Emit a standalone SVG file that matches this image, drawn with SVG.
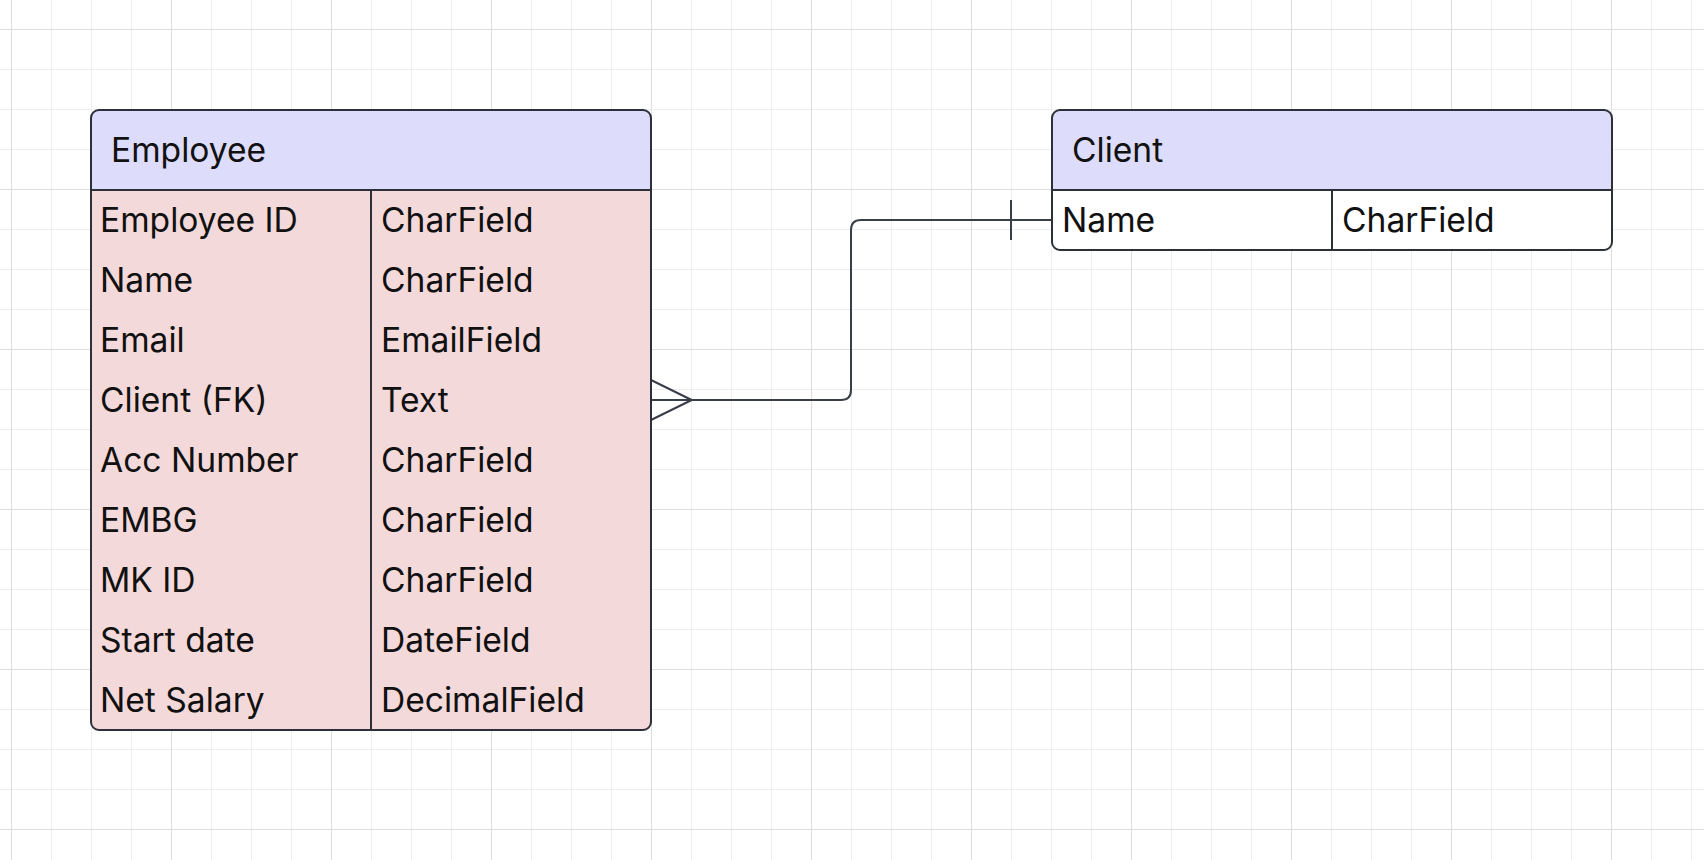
<svg xmlns="http://www.w3.org/2000/svg" width="1704" height="860" viewBox="0 0 1704 860">
<style>
.t{font-family:Inter,"Noto Sans","Liberation Sans",sans-serif;font-size:33.6px;fill:#111}
.box{stroke:#2d3038;stroke-width:2}
.ln{stroke:#2d3038;stroke-width:2;fill:none}
.conn{stroke:#3a3e47;stroke-width:2;fill:none;stroke-linejoin:round}
</style>
<defs>
<pattern id="grid" patternUnits="userSpaceOnUse" x="11" y="29" width="160" height="160">
<path d="M40.5 0V160M80.5 0V160M120.5 0V160M0 40.5H160M0 80.5H160M0 120.5H160" stroke="#eeeeee" stroke-width="1" fill="none"/>
<path d="M0.5 0V160M0 0.5H160" stroke="#dedede" stroke-width="1" fill="none"/>
</pattern>
<clipPath id="ce"><rect x="91" y="110" width="560" height="620" rx="8"/></clipPath>
<clipPath id="cc"><rect x="1052" y="110" width="560" height="140" rx="8"/></clipPath>
</defs>
<rect width="1704" height="860" fill="#ffffff"/>
<rect width="1704" height="860" fill="url(#grid)"/>

<g id="connectors">
<path class="conn" d="M651 400H841Q851 400 851 390V230Q851 220 861 220H1052"/>
<path class="conn" d="M651 380L691.7 400L651 420"/>
<path class="conn" d="M1011 200V240"/>
</g>

<g id="employee">
<g clip-path="url(#ce)">
<rect x="91" y="110" width="560" height="80" fill="#dedcfb"/>
<rect x="91" y="190" width="560" height="540" fill="#f4d9da"/>
</g>
<rect class="box" x="91" y="110" width="560" height="620" rx="8" fill="none"/>
<path class="ln" d="M91 190H651M371 190V730"/>
<text class="t" x="111" y="162">Employee</text>
<text class="t" x="100" y="232">Employee ID</text><text class="t" x="381" y="232">CharField</text>
<text class="t" x="100" y="292">Name</text><text class="t" x="381" y="292">CharField</text>
<text class="t" x="100" y="352">Email</text><text class="t" x="381" y="352">EmailField</text>
<text class="t" x="100" y="412">Client (FK)</text><text class="t" x="381" y="412">Text</text>
<text class="t" x="100" y="472">Acc Number</text><text class="t" x="381" y="472">CharField</text>
<text class="t" x="100" y="532">EMBG</text><text class="t" x="381" y="532">CharField</text>
<text class="t" x="100" y="592">MK ID</text><text class="t" x="381" y="592">CharField</text>
<text class="t" x="100" y="652">Start date</text><text class="t" x="381" y="652">DateField</text>
<text class="t" x="100" y="712">Net Salary</text><text class="t" x="381" y="712">DecimalField</text>
</g>

<g id="client">
<g clip-path="url(#cc)">
<rect x="1052" y="110" width="560" height="80" fill="#dedcfb"/>
<rect x="1052" y="190" width="560" height="60" fill="#ffffff"/>
</g>
<rect class="box" x="1052" y="110" width="560" height="140" rx="8" fill="none"/>
<path class="ln" d="M1052 190H1612M1332 190V250"/>
<text class="t" x="1072" y="162">Client</text>
<text class="t" x="1062" y="232">Name</text><text class="t" x="1342" y="232">CharField</text>
</g>
</svg>
